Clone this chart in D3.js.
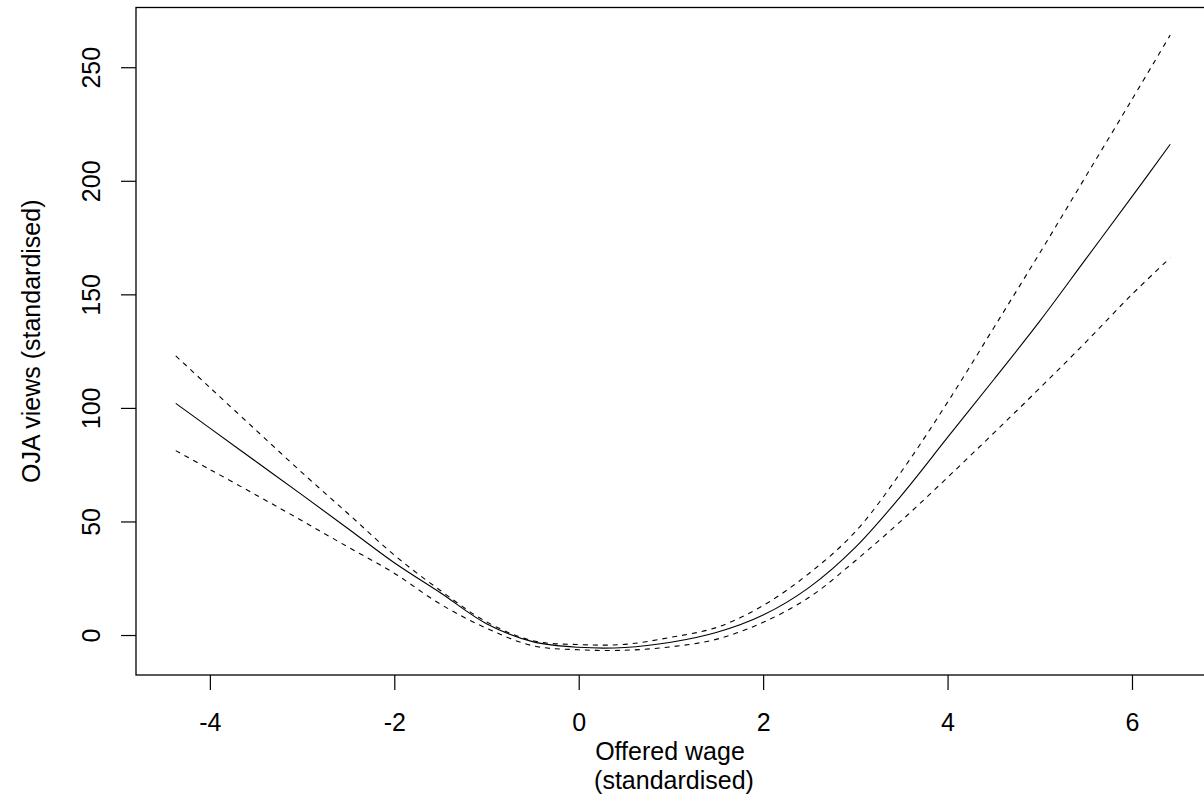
<!DOCTYPE html>
<html>
<head>
<meta charset="utf-8">
<script src="https://cdn.jsdelivr.net/npm/d3@7"></script>
<style>
  html, body { margin: 0; padding: 0; background: #fff; }
  svg { display: block; }
  text { font-family: "Liberation Sans", Arial, sans-serif; fill: #000; }
</style>
</head>
<body>
<svg id="chart" width="1204" height="798"></svg>
<script>
// ---- data ----
const wage = [-4.37, -4, -3.5, -3, -2.5, -2, -1.5, -1, -0.5, 0, 0.5, 1, 1.5, 2, 2.5, 3, 3.5, 4, 4.5, 5, 5.5, 6, 6.415];
const fitViews = [102.0, 91.1, 76.4, 61.7, 46.8, 31.8, 18.6, 5.0, -2.9, -5.4, -5.5, -3.2, 1.2, 8.8, 21.0, 38.6, 61.5, 87.0, 112.4, 138.2, 165.6, 193.0, 216.1];
const upperViews = [122.9, 109.0, 90.2, 71.5, 53.4, 35.2, 19.6, 5.8, -2.5, -4.2, -4.1, -1.0, 3.4, 13.0, 27.2, 45.5, 72.0, 102.5, 135.2, 168.2, 202.0, 235.8, 264.2];
const lowerViews = [81.2, 72.9, 61.7, 50.3, 38.7, 27.2, 13.6, 3.0, -4.7, -6.5, -6.7, -5.2, -1.8, 5.6, 16.6, 32.7, 50.4, 69.4, 88.9, 108.7, 129.0, 150.0, 166.1];
const xTicks = [-4, -2, 0, 2, 4, 6];
const yTicks = [0, 50, 100, 150, 200, 250];
const xTitle = ["Offered wage", "(standardised)"];
const yTitle = "OJA views (standardised)";

// ---- layout ----
const svg = d3.select("#chart");
const plotL = 136, plotR = 1210, plotT = 7.5, plotB = 675;
const x = d3.scaleLinear().domain([-4.801, 6.846]).range([plotL, plotR]);
const y = d3.scaleLinear().domain([-17.6, 276.3]).range([plotB, plotT]);
const fontSize = 25;

// box
svg.append("rect")
  .attr("x", plotL).attr("y", plotT)
  .attr("width", plotR - plotL).attr("height", plotB - plotT)
  .attr("fill", "none").attr("stroke", "#000").attr("stroke-width", 1.3);

// x axis
const xAxis = d3.axisBottom(x).tickValues(xTicks).tickSize(15).tickFormat(d3.format("d"));
const gx = svg.append("g").attr("transform", `translate(0,${plotB})`).call(xAxis);
gx.select(".domain").remove();
gx.selectAll(".tick line").attr("stroke", "#000").attr("stroke-width", 1.2);
gx.selectAll(".tick text")
  .attr("y", null).attr("dy", null)
  .attr("transform", "translate(0,56)")
  .style("font-size", fontSize + "px")
  .style("font-family", "'Liberation Sans', Arial, sans-serif")
  .attr("fill", "#000")
  .text(d => d < 0 ? "-" + Math.abs(d) : String(d));

// y axis
const yAxis = d3.axisLeft(y).tickValues(yTicks).tickSize(15).tickFormat(d3.format("d"));
const gy = svg.append("g").attr("transform", `translate(${plotL},0)`).call(yAxis);
gy.select(".domain").remove();
gy.selectAll(".tick line").attr("stroke", "#000").attr("stroke-width", 1.2);
gy.selectAll(".tick text")
  .attr("x", null).attr("dy", null).attr("y", null)
  .attr("text-anchor", "middle")
  .attr("transform", "translate(-36,0) rotate(-90)")
  .style("font-size", fontSize + "px")
  .style("font-family", "'Liberation Sans', Arial, sans-serif")
  .attr("fill", "#000");

// axis titles
svg.append("text").attr("x", 670).attr("y", 760).attr("text-anchor", "middle")
  .style("font-size", fontSize + "px").text(xTitle[0]);
svg.append("text").attr("x", 674).attr("y", 789).attr("text-anchor", "middle")
  .style("font-size", fontSize + "px").text(xTitle[1]);
svg.append("text")
  .attr("transform", `translate(40,${(plotT + plotB) / 2}) rotate(-90)`)
  .attr("text-anchor", "middle")
  .style("font-size", fontSize + "px").text(yTitle);

// lines
const line = vals => d3.line()
  .x((d, i) => x(wage[i]))
  .y(d => y(d))
  .curve(d3.curveCatmullRom.alpha(0.5))(vals);

svg.append("path").attr("d", line(fitViews))
  .attr("fill", "none").attr("stroke", "#000").attr("stroke-width", 1.1);
[upperViews, lowerViews].forEach(v => {
  svg.append("path").attr("d", line(v))
    .attr("fill", "none").attr("stroke", "#000").attr("stroke-width", 1.1)
    .attr("stroke-dasharray", "5,5");
});
</script>
</body>
</html>
